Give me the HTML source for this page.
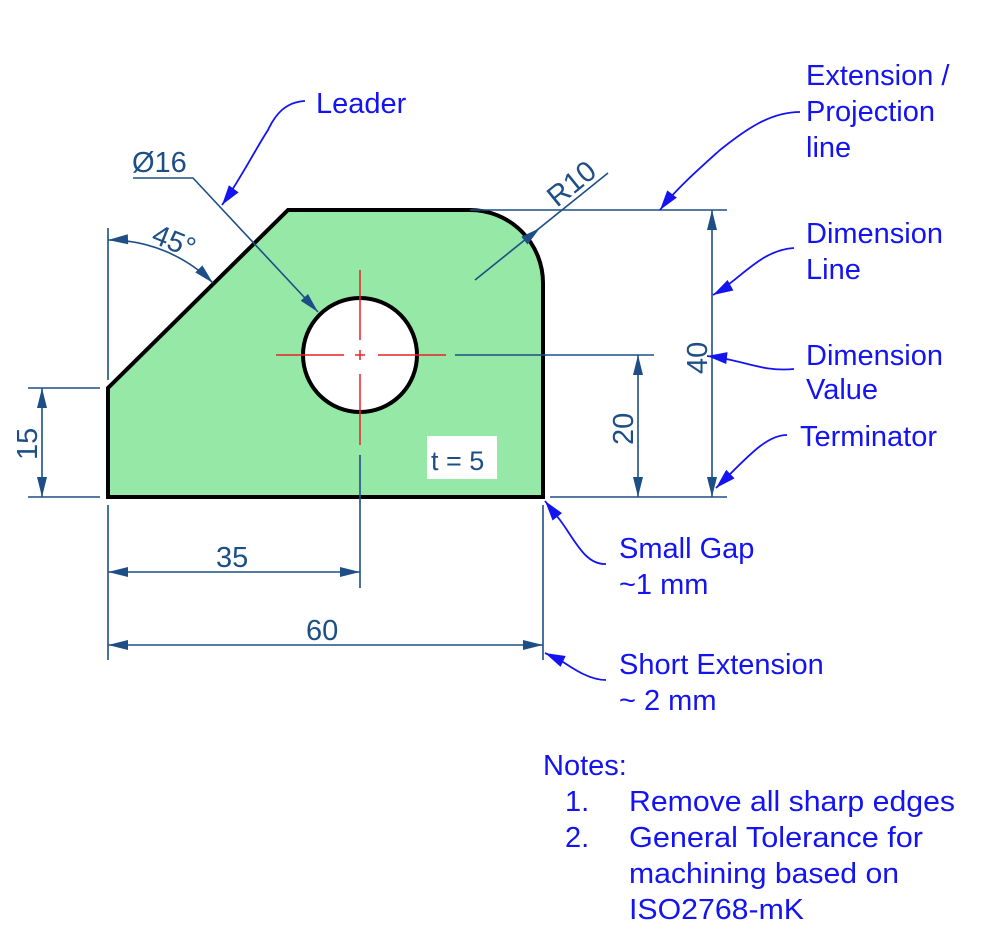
<!DOCTYPE html>
<html><head><meta charset="utf-8"><style>
html,body{margin:0;padding:0;background:#fff;}
svg{display:block;}
text{font-family:"Liberation Sans",Arial,sans-serif;}
.l{fill:#1414f0;font-size:29px;}
.d{fill:#1d4f86;font-size:29px;}
</style></head><body>
<svg width="998" height="943" viewBox="0 0 998 943" xmlns="http://www.w3.org/2000/svg">
<defs>
<path id="ah" d="M0,0 L-20,-5 L-20,5z" fill="#1d4f86"/>
<path id="bh" d="M0,0 L-20,-6 L-20,6z" fill="#1414f0"/>
</defs>
<path d="M108,497 L108,388 L288,210 L470,210 A73,73 0 0 1 543,283 L543,497 Z" fill="#95e8a6" stroke="#000" stroke-width="4" stroke-linejoin="miter"/>
<circle cx="360" cy="355" r="57" fill="#fff" stroke="#000" stroke-width="4"/>
<g stroke="#e8202a" stroke-width="1.5">
<line x1="276" y1="355" x2="344" y2="355"/><line x1="355" y1="355" x2="365" y2="355"/><line x1="378" y1="355" x2="446" y2="355"/>
<line x1="360" y1="270" x2="360" y2="340"/><line x1="360" y1="350" x2="360" y2="360"/><line x1="360" y1="374" x2="360" y2="445"/>
</g>
<rect x="427" y="436" width="70" height="43" fill="#fff"/>
<text x="431" y="470" class="d" style="font-size:27px">t = 5</text>
<g stroke="#1d4f86" stroke-width="1.6" fill="none">
<line x1="470" y1="210" x2="727" y2="210"/>
<line x1="550" y1="497" x2="727" y2="497"/>
<line x1="455" y1="355" x2="654" y2="355"/>
<line x1="712" y1="210" x2="712" y2="497"/>
<line x1="638" y1="355" x2="638" y2="497"/>
<line x1="28" y1="388" x2="100" y2="388"/>
<line x1="28" y1="497" x2="100" y2="497"/>
<line x1="42" y1="388" x2="42" y2="497"/>
<line x1="108" y1="505" x2="108" y2="660"/>
<line x1="360" y1="455" x2="360" y2="588"/>
<line x1="543" y1="505" x2="543" y2="660"/>
<line x1="108" y1="572" x2="360" y2="572"/>
<line x1="108" y1="645" x2="543" y2="645"/>
<line x1="108" y1="228" x2="108" y2="380"/>
<path d="M108,240 A148,148 0 0 1 213,283"/>
<polyline points="133,178 193,178 318,312"/>
<line x1="475" y1="280" x2="608" y2="173"/>
</g>
<use href="#ah" transform="translate(712,210) rotate(-90)"/>
<use href="#ah" transform="translate(712,497) rotate(90)"/>
<use href="#ah" transform="translate(638,355) rotate(-90)"/>
<use href="#ah" transform="translate(638,497) rotate(90)"/>
<use href="#ah" transform="translate(42,388) rotate(-90)"/>
<use href="#ah" transform="translate(42,497) rotate(90)"/>
<use href="#ah" transform="translate(108,572) rotate(180)"/>
<use href="#ah" transform="translate(360,572)"/>
<use href="#ah" transform="translate(108,645) rotate(180)"/>
<use href="#ah" transform="translate(543,645)"/>
<use href="#ah" transform="translate(108,240) rotate(178)"/>
<use href="#ah" transform="translate(213,283) rotate(45)"/>
<use href="#ah" transform="translate(318,312) rotate(47)"/>
<use href="#ah" transform="translate(540,228) rotate(-39)"/>
<g class="d">
<text x="132" y="172">Ø16</text>
<text x="0" y="0" transform="translate(150,242) rotate(22)">45°</text>
<text x="0" y="0" transform="translate(557,208) rotate(-39)">R10</text>
<text x="0" y="0" transform="translate(707,374) rotate(-90)">40</text>
<text x="0" y="0" transform="translate(633,445) rotate(-90)">20</text>
<text x="0" y="0" transform="translate(37,460) rotate(-90)">15</text>
<text x="216" y="567">35</text>
<text x="306" y="640">60</text>
</g>
<g stroke="#1414f0" stroke-width="1.8" fill="none">
<path d="M305,101 C285,102 275,115 268,130 C255,150 240,180 222,205"/>
<path d="M800,112 C770,112 745,130 720,150 C700,168 675,190 660,210"/>
<path d="M794,248 C760,250 740,280 713,295"/>
<path d="M794,369 C760,372 745,360 707,356"/>
<path d="M787,435 C765,435 745,460 716,488"/>
<path d="M606,564 C585,565 575,540 560,520 L545,501"/>
<path d="M606,680 C590,680 575,670 560,660 L545,653"/>
</g>
<use href="#bh" transform="translate(222,205) rotate(126)"/>
<use href="#bh" transform="translate(660,210) rotate(127)"/>
<use href="#bh" transform="translate(713,295) rotate(151)"/>
<use href="#bh" transform="translate(707,356) rotate(186)"/>
<use href="#bh" transform="translate(716,488) rotate(136)"/>
<use href="#bh" transform="translate(545,501) rotate(232)"/>
<use href="#bh" transform="translate(545,653) rotate(205)"/>
<g class="l">
<text x="316" y="113">Leader</text>
<text x="806" y="85">Extension /</text>
<text x="806" y="121">Projection</text>
<text x="806" y="157">line</text>
<text x="806" y="243">Dimension</text>
<text x="806" y="279">Line</text>
<text x="806" y="365">Dimension</text>
<text x="806" y="399">Value</text>
<text x="800" y="446">Terminator</text>
<text x="619" y="558">Small Gap</text>
<text x="619" y="594">~1 mm</text>
<text x="619" y="674">Short Extension</text>
<text x="619" y="710">~ 2 mm</text>
<text x="543" y="775">Notes:</text>
<text x="565" y="811">1.</text>
<text x="629" y="811" textLength="326" lengthAdjust="spacingAndGlyphs">Remove all sharp edges</text>
<text x="565" y="847">2.</text>
<text x="629" y="847" textLength="294" lengthAdjust="spacingAndGlyphs">General Tolerance for</text>
<text x="629" y="883" textLength="270" lengthAdjust="spacingAndGlyphs">machining based on</text>
<text x="629" y="919" textLength="175" lengthAdjust="spacingAndGlyphs">ISO2768-mK</text>
</g>
</svg>
</body></html>
